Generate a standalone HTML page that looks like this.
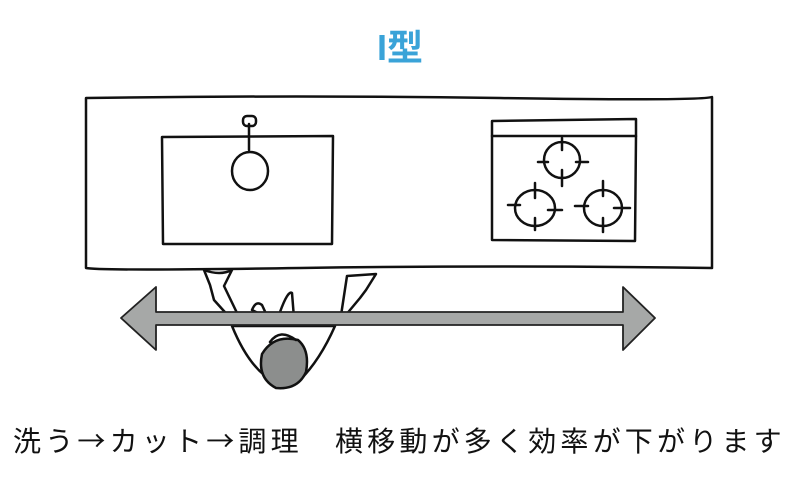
<!DOCTYPE html>
<html><head><meta charset="utf-8"><style>
body{margin:0;width:800px;height:480px;background:#fff;overflow:hidden;position:relative;font-family:"Liberation Sans","Noto Sans CJK JP",sans-serif}
.t{position:absolute;left:0;width:800px;text-align:center;top:19px;font-size:36px;font-weight:bold;color:#3aa3d8}
.b{position:absolute;left:13px;top:421px;font-size:28px;line-height:38px;color:#111;white-space:nowrap;letter-spacing:4.2px;font-family:"Noto Sans CJK JP",sans-serif}
svg{position:absolute;left:0;top:0}
</style></head><body>
<div class="t">I型</div>
<svg width="800" height="480" fill="none" stroke="#111" stroke-width="2.5" stroke-linecap="round" stroke-linejoin="round">
<path d="M86 98 Q300 95 500 98 T712 97 L712 268 Q500 265 300 268 T86 268 Z"/>
<path d="M162 137 L333 136 L332 244 L163 244 Z"/>
<line x1="249" y1="124" x2="249" y2="150"/>
<rect x="243" y="116" width="13" height="10" rx="4"/>
<ellipse cx="250" cy="171" rx="18" ry="19"/>
<path d="M492 121 L636 119 L636 136 L492 136 Z"/>
<path d="M492 136 L492 240 L635 241 L636 136"/>
<ellipse cx="562" cy="160" rx="18" ry="18"/>
<path d="M562 138 V150 M562 170 V186 M538 162 H548 M576 162 H588"/>
<ellipse cx="535" cy="208" rx="20" ry="18"/>
<path d="M535 183 V198 M535 218 V230 M508 205 H520 M548 210 H562"/>
<ellipse cx="603" cy="208" rx="19" ry="18"/>
<path d="M603 181 V196 M603 218 V232 M575 206 H588 M614 208 H630"/>
<g fill="#fff">
<path d="M204 270 Q220 276 232 270 L224 286 L238 315 L232 320 L214 300 L210 285 Z"/>
<path d="M252 310 Q256 300 262 305 L268 318 Z M280 312 Q288 290 292 293 L294 318 Z"/>
<path d="M347 276 L376 274 L366 290 L360 298 L340 322 Z"/>
<path d="M232 326 Q250 370 275 382 L300 380 Q320 360 335 326 Z"/>
</g>
<path d="M121 318 L156 287 L156 312 L623 312 L623 287 L655 318 L623 350 L623 325 L156 325 L156 350 Z" fill="#a6a8a7" stroke="#222" stroke-width="1.8"/>
<path d="M262 354 Q274 334 298 340 Q310 350 306 372 Q298 390 276 388 Q257 378 262 354 Z" fill="#8c8e8d" stroke="#111"/>
<path d="M270 342 Q280 328 296 340"/>
</svg>
<div class="b">洗う→カット→調理　横移動が多く効率が下がります</div>
</body></html>
